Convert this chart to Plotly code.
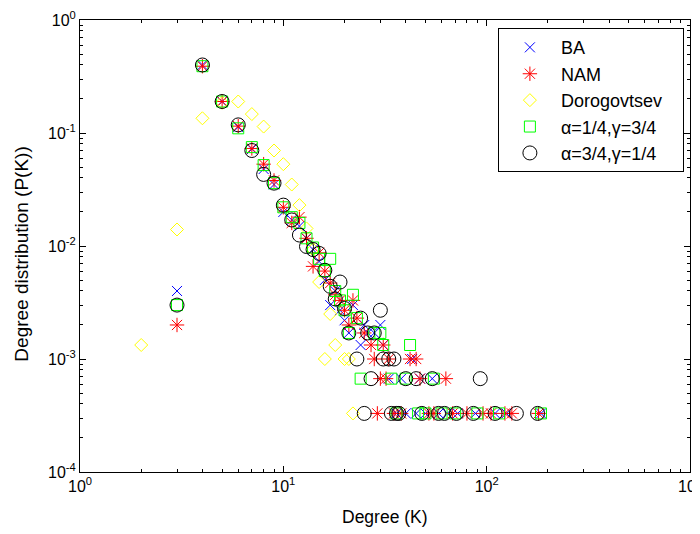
import plotly.graph_objects as go

# ---- data (degree K, probability P(K)) ----
ba_k = [3, 4, 5, 6, 7, 8, 9, 10, 11, 12, 13, 14, 15, 16, 17, 18, 19, 20, 21, 22, 24, 25, 26, 28, 30, 31,
        33, 36, 38, 40, 43, 45, 47, 50, 54, 58, 64, 72, 88, 110, 125, 185]
ba_p = [0.004, 0.40, 0.19, 0.113, 0.072, 0.048, 0.035, 0.020, 0.017, 0.015, 0.0117, 0.0093, 0.0073,
        0.0050, 0.0030, 0.0040, 0.0027, 0.0022, 0.0017, 0.0030, 0.00133, 0.0020, 0.0017, 0.0017, 0.0020,
        0.00133, 0.00067, 0.00033, 0.00067, 0.00033, 0.0010, 0.00033, 0.00067, 0.00033, 0.00067, 0.00033,
        0.00033, 0.00033, 0.00033, 0.00033, 0.00033, 0.00033]

nam_k = [3, 4, 5, 6, 7, 8, 9, 10, 11, 12, 13, 14, 15, 16, 17, 18, 19, 20, 21, 22, 23, 25, 27, 28, 29,
         30, 31, 32, 33, 35, 38, 42, 45, 47, 52, 55, 63, 68, 80, 96, 105, 123, 133, 180]
nam_p = [0.002, 0.39, 0.19, 0.115, 0.073, 0.053, 0.038, 0.022, 0.016, 0.018, 0.0117, 0.0066, 0.0087,
         0.0060, 0.0047, 0.0037, 0.0033, 0.0027, 0.0020, 0.0033, 0.0023, 0.0017, 0.00133, 0.0010, 0.00033,
         0.00067, 0.00133, 0.00067, 0.0010, 0.00033, 0.00033, 0.0010, 0.0010, 0.00067, 0.00033, 0.00033,
         0.00067, 0.00033, 0.00033, 0.00033, 0.00033, 0.00033, 0.00033, 0.00033]

dor_k = [2, 3, 4, 5, 6, 7, 8, 9, 10, 11, 12, 13, 14, 15, 16, 17, 18, 20, 21, 22]
dor_p = [0.00133, 0.014, 0.135, 0.185, 0.19, 0.147, 0.114, 0.070, 0.053, 0.035, 0.023, 0.0143, 0.0093,
         0.0048, 0.0010, 0.0025, 0.00133, 0.0010, 0.0010, 0.00033]

sq_k = [3, 4, 5, 6, 7, 8, 9, 10, 11, 12, 13, 14, 15, 16, 17, 18, 19, 20, 21, 22, 23, 24, 28, 30, 31,
        34, 36, 40, 42, 46, 50, 55, 60, 70, 90, 115, 185]
sq_p = [0.003, 0.39, 0.19, 0.11, 0.075, 0.052, 0.036, 0.022, 0.018, 0.016, 0.0117, 0.0097, 0.0077,
        0.0060, 0.0077, 0.0040, 0.0033, 0.0027, 0.0017, 0.0037, 0.0023, 0.00067, 0.0017, 0.0017, 0.00133,
        0.00067, 0.00033, 0.00067, 0.00133, 0.00033, 0.00033, 0.00067, 0.00033, 0.00033, 0.00033,
        0.00033, 0.00033]

ci_k = [3, 4, 5, 6, 7, 8, 9, 10, 11, 12, 13, 14, 15, 16, 17, 18, 19, 20, 21, 23, 24, 25, 26, 27, 28,
        30, 31, 33, 34, 35, 36, 37, 40, 45, 48, 54, 58, 62, 71, 86, 93, 110, 140, 178]
ci_p = [0.003, 0.40, 0.19, 0.118, 0.070, 0.043, 0.036, 0.023, 0.017, 0.0125, 0.0099, 0.0093, 0.0086,
        0.0061, 0.0044, 0.0034, 0.0048, 0.0028, 0.0017, 0.0010, 0.0023, 0.00033, 0.0017, 0.00067, 0.0017,
        0.0027, 0.0010, 0.0010, 0.00033, 0.0010, 0.00033, 0.00033, 0.00067, 0.00067, 0.00033, 0.00067,
        0.00033, 0.00033, 0.00033, 0.00033, 0.00067, 0.00033, 0.00033, 0.00033]

names = ["BA", "NAM", "Dorogovtsev", "α=1/4,γ=3/4", "α=3/4,γ=1/4"]
x_ticks = [1, 10, 100, 1000]
x_text = ["10<sup>0</sup>", "10<sup>1</sup>", "10<sup>2</sup>", "10<sup>3</sup>"]
y_ticks = [1e-4, 1e-3, 1e-2, 1e-1, 1]
y_text = ["10<sup>-4</sup>", "10<sup>-3</sup>", "10<sup>-2</sup>", "10<sup>-1</sup>", "10<sup>0</sup>"]
x_title = "Degree (K)"
y_title = "Degree distribution (P(K))"

FONT = "Liberation Sans, Arial, sans-serif"
PAD = "\u00a0\u00a0\u00a0"

fig = go.Figure()
styles = [
    (ba_k, ba_p, "x-thin-open", "#0000ff", 10),
    (nam_k, nam_p, "asterisk-open", "#ff0000", 12),
    (dor_k, dor_p, "diamond-open", "#ffff00", 10),
    (sq_k, sq_p, "square-open", "#00ff00", 11),
    (ci_k, ci_p, "circle-open", "#000000", 14),
]
for (k, p, sym, col, sz), nm in zip(styles, names):
    fig.add_trace(go.Scatter(
        x=k, y=p, mode="markers", name=nm + PAD,
        marker=dict(symbol=sym, size=sz, color=col, line=dict(color=col, width=1)),
    ))

minor_x = [2, 3, 4, 5, 6, 7, 8, 9, 20, 30, 40, 50, 60, 70, 80, 90, 200, 300, 400, 500, 600, 700, 800, 900]
minor_y = [m * d for d in [1e-4, 1e-3, 1e-2, 1e-1] for m in range(2, 10)]

axis_common = dict(
    showline=True, linecolor="black", linewidth=1, mirror="ticks",
    ticks="inside", ticklen=6, tickcolor="black", showgrid=False, zeroline=False,
    tickfont=dict(family=FONT, size=16, color="black"),
    automargin=False, ticklabeloverflow="allow",
)

fig.update_xaxes(
    type="log", range=[0, 3], tickvals=x_ticks, ticktext=x_text,
    minor=dict(tickvals=minor_x, ticks="inside", ticklen=3, tickcolor="black", showgrid=False),
    **axis_common,
)
fig.update_yaxes(
    type="log", range=[-4, 0], tickvals=y_ticks, ticktext=y_text,
    minor=dict(tickvals=minor_y, ticks="inside", ticklen=3, tickcolor="black", showgrid=False),
    **axis_common,
)

fig.add_annotation(text=x_title, xref="paper", yref="paper", x=0.5, y=-0.0996,
                   xanchor="center", yanchor="middle", showarrow=False,
                   font=dict(family=FONT, size=17.5, color="black"))
fig.add_annotation(text=y_title, xref="paper", yref="paper", x=-0.095, y=0.481,
                   xanchor="center", yanchor="middle", showarrow=False, textangle=-90,
                   font=dict(family=FONT, size=19, color="black"))

fig.update_layout(
    width=692, height=526,
    margin=dict(l=72, r=10, t=12, b=62),
    paper_bgcolor="white", plot_bgcolor="white",
    font=dict(family=FONT, size=16, color="black"),
    showlegend=True,
    legend=dict(
        x=0.990, y=0.982, xanchor="right", yanchor="top",
        bordercolor="black", borderwidth=1, bgcolor="white",
        font=dict(family=FONT, size=18, color="black"),
        itemwidth=52, tracegroupgap=0,
    ),
)

fig.write_html("out.html")
